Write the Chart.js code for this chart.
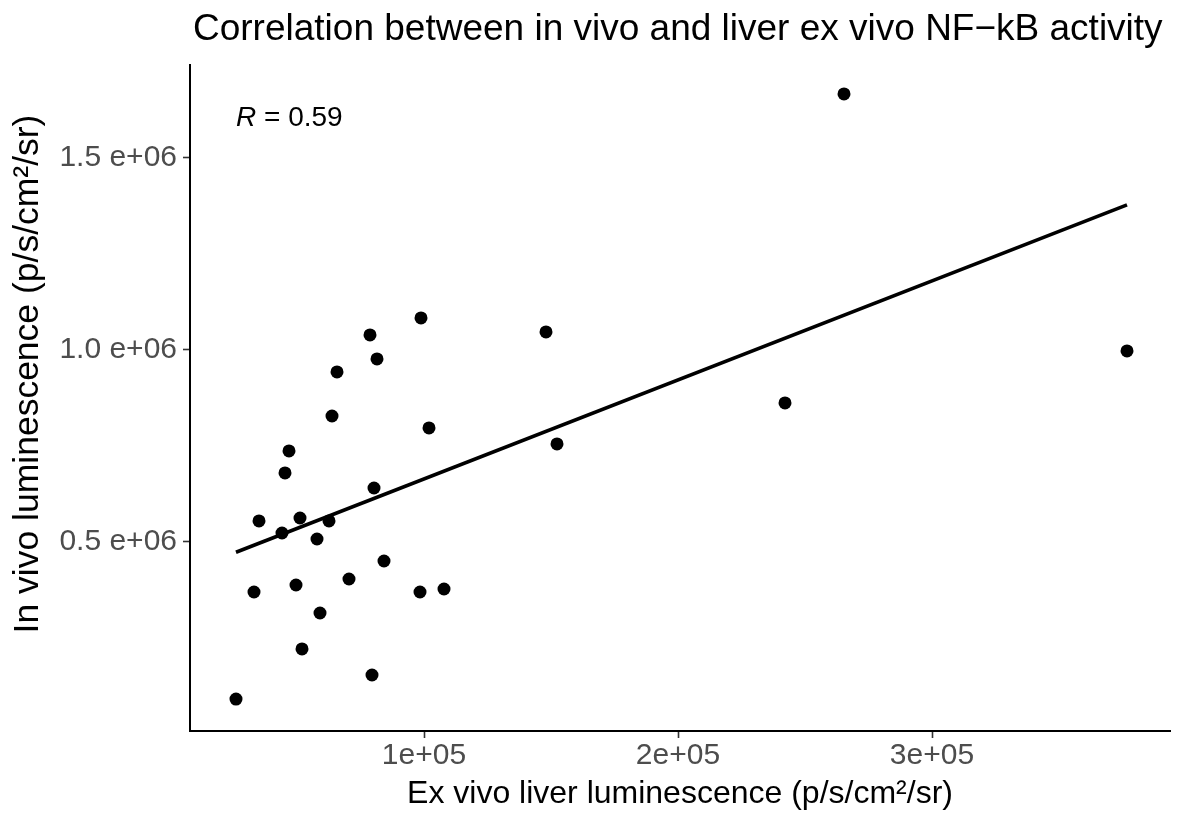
<!DOCTYPE html>
<html>
<head>
<meta charset="utf-8">
<script src="https://cdn.jsdelivr.net/npm/chart.js@4/dist/chart.umd.min.js"></script>
<style>
  html, body { margin: 0; padding: 0; background: #fff; }
  canvas { display: block; }
</style>
</head>
<body>
<canvas id="c" width="1177" height="813"></canvas>
<script>
// ---- Data ----
const exVivoLiver = [25984, 33071, 35039, 44094, 45276, 46850, 49606, 51181, 51969, 57874,
  59055, 62598, 63780, 65748, 70472, 78740, 79528, 80315, 81496, 84252,
  98819, 98425, 101969, 107874, 148031, 152362, 242126, 265354, 376772];
const inVivo = [91000, 369800, 554700, 523400, 679700, 737000, 388000, 562500, 221400, 507800,
  315100, 554700, 828100, 942700, 403600, 1039100, 153600, 640600, 976600, 450500,
  1083300, 369800, 796900, 377600, 1046900, 755200, 862000, 1666700, 997400];

const xTickValues = [100000, 200000, 300000];
const xTickLabels = ['1e+05', '2e+05', '3e+05'];
const yTickValues = [500000, 1000000, 1500000];
const yTickLabels = ['0.5 e+06', '1.0 e+06', '1.5 e+06'];

const titleText = 'Correlation between in vivo and liver ex vivo NF\u2212kB activity';
const xTitle = 'Ex vivo liver luminescence (p/s/cm\u00b2/sr)';
const yTitle = 'In vivo luminescence (p/s/cm\u00b2/sr)';
const rText = '0.59';
const rLabelPos = [25984, 1604000];

const xRange = [7874, 393700];
const yRange = [7800, 1742000];

// ---- Least squares fit line (derived from data) ----
const n = exVivoLiver.length;
const mx = exVivoLiver.reduce((a, b) => a + b, 0) / n;
const my = inVivo.reduce((a, b) => a + b, 0) / n;
let sxy = 0, sxx = 0;
for (let i = 0; i < n; i++) {
  sxy += (exVivoLiver[i] - mx) * (inVivo[i] - my);
  sxx += (exVivoLiver[i] - mx) ** 2;
}
const slope = sxy / sxx;
const icpt = my - slope * mx;
const xMin = Math.min(...exVivoLiver), xMax = Math.max(...exVivoLiver);
const fitLine = [{x: xMin, y: icpt + slope * xMin}, {x: xMax, y: icpt + slope * xMax}];

const points = exVivoLiver.map((v, i) => ({x: v, y: inVivo[i]}));

const FONT = '"Liberation Sans", Arial, Helvetica, sans-serif';

const annot = {
  id: 'annot',
  afterDraw(chart) {
    const {ctx, chartArea, scales: {x, y}} = chart;
    ctx.save();
    ctx.fillStyle = '#000';
    ctx.textBaseline = 'middle';
    ctx.textAlign = 'left';
    ctx.font = '37px ' + FONT;
    ctx.fillText(titleText, chartArea.left + 3, 30);
    const px = x.getPixelForValue(rLabelPos[0]);
    const py = y.getPixelForValue(rLabelPos[1]);
    ctx.font = 'italic 28px ' + FONT;
    ctx.fillText('R', px, py);
    const w = ctx.measureText('R').width;
    ctx.font = '28px ' + FONT;
    ctx.fillText(' = ' + rText, px + w, py);
    // y axis title
    ctx.translate(28, (chartArea.top + chartArea.bottom) / 2 - 24);
    ctx.rotate(-Math.PI / 2);
    ctx.textAlign = 'center';
    ctx.font = '35.5px ' + FONT;
    ctx.fillText(yTitle, 0, 0);
    ctx.restore();
  }
};

new Chart(document.getElementById('c'), {
  type: 'scatter',
  data: {
    datasets: [
      {
        type: 'line',
        data: fitLine,
        borderColor: '#000',
        borderWidth: 3.6,
        pointRadius: 0,
        fill: false,
        order: 2
      },
      {
        data: points,
        backgroundColor: '#000',
        borderColor: '#000',
        pointRadius: 6.5,
        pointBorderWidth: 0,
        order: 1
      }
    ]
  },
  options: {
    responsive: false,
    animation: false,
    devicePixelRatio: 1,
    layout: { padding: { top: 65, right: 7, left: 0, bottom: 0 } },
    plugins: { legend: { display: false }, title: { display: false }, tooltip: { enabled: false } },
    scales: {
      x: {
        type: 'linear',
        min: xRange[0], max: xRange[1],
        afterFit: s => { s.height = 82; },
        afterBuildTicks: s => { s.ticks = xTickValues.map(v => ({value: v})); },
        border: { display: true, color: '#000', width: 2 },
        grid: { display: true, drawOnChartArea: false, drawTicks: true, tickLength: 7, tickColor: '#333', tickWidth: 1.6 },
        ticks: {
          padding: 0,
          color: '#4d4d4d',
          font: { family: FONT, size: 30 },
          maxRotation: 0,
          callback: (v, i) => xTickLabels[i]
        },
        title: {
          display: true, text: xTitle, color: '#000',
          font: { family: FONT, size: 32 },
          padding: { top: 0, bottom: 0 }
        }
      },
      y: {
        type: 'linear',
        min: yRange[0], max: yRange[1],
        afterFit: s => { s.width = 190; },
        afterBuildTicks: s => { s.ticks = yTickValues.map(v => ({value: v})); },
        border: { display: true, color: '#000', width: 2 },
        grid: { display: true, drawOnChartArea: false, drawTicks: true, tickLength: 7, tickColor: '#333', tickWidth: 1.6 },
        ticks: {
          padding: 6,
          color: '#4d4d4d',
          font: { family: FONT, size: 30 },
          callback: (v, i) => yTickLabels[i]
        },
        title: { display: false }
      }
    }
  },
  plugins: [annot]
});
</script>
</body>
</html>
